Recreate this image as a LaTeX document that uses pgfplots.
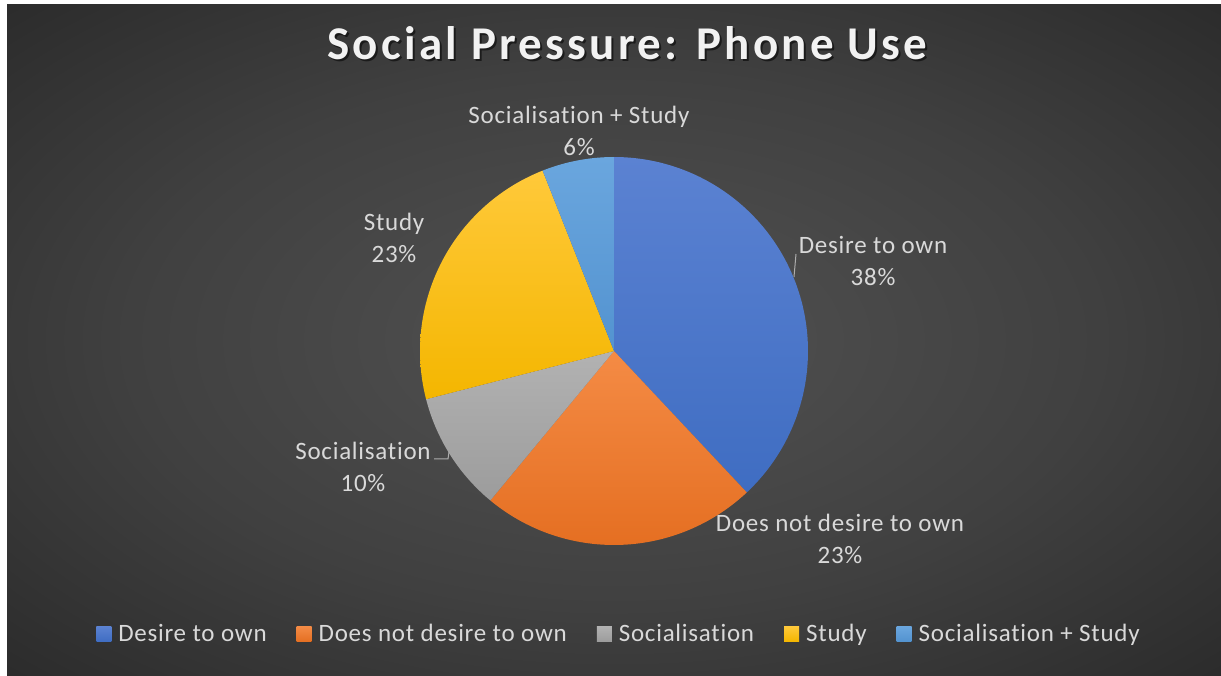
\documentclass[border=0pt]{standalone}
\usepackage{fontspec}
\setmainfont{Carlito}[Ligatures={NoCommon}]
\usepackage{pgfplots}
\pgfplotsset{compat=1.18}
\definecolor{cBlueT}{HTML}{5B82D2}
\definecolor{cBlueB}{HTML}{3F6DC2}
\definecolor{cOrT}{HTML}{F48B45}
\definecolor{cOrB}{HTML}{E56F22}
\definecolor{cGrT}{HTML}{B2B2B2}
\definecolor{cGrB}{HTML}{9C9C9C}
\definecolor{cYeT}{HTML}{FFC93A}
\definecolor{cYeB}{HTML}{F4B600}
\definecolor{cLbT}{HTML}{6AA6DE}
\definecolor{cLbB}{HTML}{5393D0}
\definecolor{txt}{HTML}{D9D9D9}
\definecolor{bgin}{HTML}{525252}
\definecolor{bgmid}{HTML}{404040}
\definecolor{bgout}{HTML}{232323}
\pgfdeclareradialshading{bgshade}{\pgfpoint{0bp}{0bp}}{color(0bp)=(bgin); color(20bp)=(bgmid); color(42bp)=(bgout); color(50bp)=(bgout)}
\newcommand\lblfont{\fontsize{25}{32}\selectfont\addfontfeatures{LetterSpace=3}}
% data (percent)
\def\pA{38}\def\pB{23}\def\pC{10}\def\pD{23}\def\pE{6}
\begin{document}
\begin{tikzpicture}
\pgfmathsetmacro{\aA}{90}
\pgfmathsetmacro{\aB}{\aA-3.6*\pA}
\pgfmathsetmacro{\aC}{\aB-3.6*\pB}
\pgfmathsetmacro{\aD}{\aC-3.6*\pC}
\pgfmathsetmacro{\aE}{\aD-3.6*\pD}
\pgfmathsetmacro{\aF}{\aE-3.6*\pE}
\begin{axis}[
  scale only axis, width=1221pt, height=675pt,
  xmin=0, xmax=1221, ymin=0, ymax=675,
  hide axis, clip=false,
  legend columns=5,
  legend style={at={(axis cs:619,41)}, anchor=center, draw=none, fill=none,
    text=txt, font=\lblfont,
    /tikz/every even column/.append style={column sep=28pt},
    /tikz/every odd column/.append style={column sep=5pt}},
  legend image code/.code={\fill[#1] (0pt,-7.5pt) rectangle (15pt,7.5pt);},
]
\fill[white] (axis cs:0,0) rectangle (axis cs:1221,675);
\shade[shading=bgshade] (axis cs:7,0) rectangle (axis cs:1221,670);
\addplot[draw=none, top color=cBlueT, bottom color=cBlueB, domain=\aB:\aA, samples=90, variable=\t]
  ({614+194*cos(\t)},{324+194*sin(\t)}) -- (axis cs:614,324) -- cycle;
\addlegendentry{Desire to own}
\addplot[draw=none, top color=cOrT, bottom color=cOrB, domain=\aC:\aB, samples=60, variable=\t]
  ({614+194*cos(\t)},{324+194*sin(\t)}) -- (axis cs:614,324) -- cycle;
\addlegendentry{Does not desire to own}
\addplot[draw=none, top color=cGrT, bottom color=cGrB, domain=\aD:\aC, samples=30, variable=\t]
  ({614+194*cos(\t)},{324+194*sin(\t)}) -- (axis cs:614,324) -- cycle;
\addlegendentry{Socialisation}
\addplot[draw=none, top color=cYeT, bottom color=cYeB, domain=\aE:\aD, samples=60, variable=\t]
  ({614+194*cos(\t)},{324+194*sin(\t)}) -- (axis cs:614,324) -- cycle;
\addlegendentry{Study}
\addplot[draw=none, top color=cLbT, bottom color=cLbB, domain=\aF:\aE, samples=20, variable=\t]
  ({614+194*cos(\t)},{324+194*sin(\t)}) -- (axis cs:614,324) -- cycle;
\addlegendentry{Socialisation + Study}
% title
\node[text=black, opacity=0.55, font=\fontsize{47}{50}\selectfont\bfseries\addfontfeatures{LetterSpace=7}] at (axis cs:629.5,630) {Social Pressure: Phone Use};
\node[text=white!95!black, font=\fontsize{47}{50}\selectfont\bfseries\addfontfeatures{LetterSpace=7}] at (axis cs:627.5,632) {Social Pressure: Phone Use};
% data labels
\begin{scope}[every node/.style={text=txt, align=center, font=\lblfont}]
\node at (axis cs:579,544) {Socialisation + Study\\6\%};
\node at (axis cs:873,414) {Desire to own\\38\%};
\node at (axis cs:394,437) {Study\\23\%};
\node at (axis cs:363,208) {Socialisation\\10\%};
\node at (axis cs:840,136) {Does not desire to own\\23\%};
\end{scope}
\draw[txt!80!black, line width=1pt] (axis cs:796,421) -- (axis cs:794,398);
\draw[txt!80!black, line width=1pt] (axis cs:434,216) -- (axis cs:448,216) -- (axis cs:449,223);
\end{axis}
\end{tikzpicture}
\end{document}
